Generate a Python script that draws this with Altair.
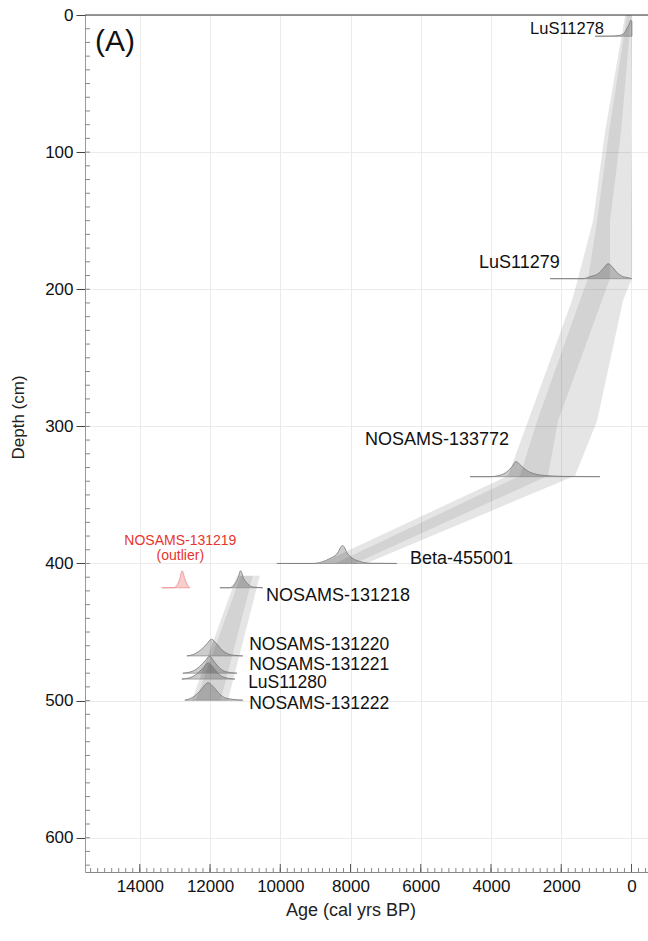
import altair as alt
import pandas as pd

FONT = "Liberation Sans"

# ---------------- age-depth model envelope (age in cal yrs BP, depth in cm)
env_seg = ["upper"] * 8 + ["lower"] * 2
env_depth = [0, 85, 150, 192, 208, 296, 336, 400, 409, 500]
env_old95 = [180, 752, 1094, 1521, 1692, 2946, 3516, 8852, 11237, 12519]
env_young95 = [-20, 11, -17, -17, 239, 980, 1607, 7561, 10581, 11494]
env_old68 = [125, 638, 980, 1236, 1464, 2689, 3174, 8444, 11123, 12405]
env_young68 = [10, 296, 610, 610, 838, 2091, 2376, 7874, 10781, 11700]

# ---------------- calibrated date probability curves
pdf_names = ["LuS11278", "LuS11279", "NOSAMS-133772", "Beta-455001", "NOSAMS-131219",
             "NOSAMS-131218", "NOSAMS-131220", "NOSAMS-131221", "LuS11280", "NOSAMS-131222"]
pdf_depth = [15.5, 192.3, 336.7, 400.0, 417.7, 417.7, 467.4, 480.0, 484.3, 499.7]
pdf_outlier = [False, False, False, False, True, False, False, False, False, False]
pdf_age = [
    [1037, 500, 325, 200, 134, 60, 20, -10, -12],
    [2319, 1379, 1180, 952, 809, 667, 553, 410, 239, 97, -3],
    [4598, 4028, 3744, 3544, 3402, 3288, 3145, 2974, 2746, 2376, 1892, 900],
    [10097, 9074, 8818, 8590, 8391, 8225, 8077, 7934, 7735, 7450, 6681],
    [13373, 13032, 12918, 12861, 12795, 12718, 12661, 12604, 12576],
    [11721, 11436, 11294, 11208, 11131, 11037, 10923, 10809, 10496],
    [12661, 12433, 12234, 12092, 11957, 11835, 11664, 11493, 11294, 11066],
    [12775, 12490, 12291, 12148, 12006, 11892, 11721, 11550, 11237],
    [12803, 12519, 12319, 12177, 12054, 11920, 11749, 11579, 11294],
    [12718, 12490, 12291, 12177, 12054, 11920, 11749, 11550, 11066],
]
pdf_height = [
    [0, 0.2, 0.7, 2.5, 5.6, 9.0, 11.7, 11.0, 0],
    [0, 0, 1.5, 3.6, 7.3, 10.9, 8.8, 4.4, 1.5, 0.7, 0],
    [0, 0, 1.1, 3.6, 7.3, 11.0, 8.0, 4.4, 2.0, 0.7, 0.2, 0],
    [0, 0, 1.1, 3.6, 6.9, 13.1, 6.9, 3.6, 1.5, 0.2, 0],
    [0, 0, 2.9, 6.6, 12.4, 6.6, 2.9, 0.7, 0],
    [0, 0, 2.9, 6.6, 12.4, 6.6, 2.9, 0.7, 0],
    [0, 1.5, 5.0, 8.8, 12.2, 9.5, 4.4, 1.5, 0.4, 0],
    [0, 1.5, 5.0, 8.8, 12.4, 8.8, 3.6, 1.1, 0],
    [0, 1.5, 5.0, 8.8, 11.9, 8.8, 3.6, 1.1, 0],
    [0, 2.2, 6.6, 10.2, 12.8, 10.2, 5.1, 1.5, 0],
]

# ---------------- labels
lab_text = ["LuS11278", "LuS11279", "NOSAMS-133772", "Beta-455001", "NOSAMS-131218",
            "NOSAMS-131220", "NOSAMS-131221", "LuS11280", "NOSAMS-131222"]
lab_age = [2889, 4344, 7590, 6308, 10410, 10886, 10886, 10915, 10886]
lab_depth = [13.7, 184.8, 313.9, 400.7, 427.0, 463.0, 477.4, 490.8, 506.0]
lab_size = [16.5, 18, 18, 18, 18, 17.5, 17.5, 17.5, 17.5]

out_text = ["NOSAMS-131219", "(outlier)"]
out_age = [12846, 12846]
out_depth = [386.8, 397.8]

# ---------------- axis ticks
x_major = list(range(0, 14001, 2000))
x_minor = list(range(-400, 15401, 200))
y_major = list(range(0, 601, 100))
y_minor = list(range(10, 621, 10))

# ---------------- tables
df_env = pd.DataFrame({"seg": env_seg, "depth": env_depth, "old95": env_old95,
                       "young95": env_young95, "old68": env_old68, "young68": env_young68})
rows = []
base_rows = []
for n, d, o, ages, hs in zip(pdf_names, pdf_depth, pdf_outlier, pdf_age, pdf_height):
    for a, h in zip(ages, hs):
        rows.append({"name": n, "depth": d, "outlier": o, "age": a, "top": d - h})
    base_rows.append({"name": n, "depth": d, "outlier": o, "amin": min(ages), "amax": max(ages)})
df_pdf = pd.DataFrame(rows)
df_base = pd.DataFrame(base_rows)
df_lab = pd.DataFrame({"t": lab_text, "age": lab_age, "depth": lab_depth, "fs": lab_size})
df_out = pd.DataFrame({"t": out_text, "age": out_age, "depth": out_depth})

W, H = 563, 857
xscale = alt.Scale(domain=[-470, 15560], reverse=True, nice=False, zero=False)
yscale = alt.Scale(domain=[0, 625], reverse=True, nice=False, zero=False)

xaxis = alt.Axis(values=x_major, format="d", title="Age (cal yrs BP)", ticks=False,
                 labelFont=FONT, labelFontSize=17, labelColor="#111", labelPadding=6,
                 domainColor="#888", grid=True, gridColor="#ebebeb",
                 titleFont=FONT, titleFontSize=18, titleFontWeight="normal", titleColor="#222",
                 titlePadding=7, titleX=265.5, titleAlign="center")
yaxis = alt.Axis(values=y_major, format="d", title="Depth (cm)", tickSize=9, tickColor="#444",
                 labelFont=FONT, labelFontSize=17, labelColor="#111", labelPadding=3,
                 domainColor="#999", grid=True, gridColor="#ebebeb",
                 titleFont=FONT, titleFontSize=17, titleFontWeight="normal", titleColor="#222",
                 titleX=-67, titleY=402, titleAngle=270, titleAlign="center", titleBaseline="middle")


def X(f):
    return alt.X(f, scale=xscale, axis=xaxis)


def Y(f):
    return alt.Y(f, scale=yscale, axis=yaxis)


env95 = alt.Chart(df_env).mark_area(orient="horizontal", color="black", opacity=0.10).encode(
    y=Y("depth:Q"), x=X("old95:Q"), x2="young95:Q", detail="seg:N")
env68 = alt.Chart(df_env).mark_area(orient="horizontal", color="black", opacity=0.08).encode(
    y=Y("depth:Q"), x=X("old68:Q"), x2="young68:Q", detail="seg:N")

normal = df_pdf[~df_pdf["outlier"]]
outl = df_pdf[df_pdf["outlier"]]
pdf_fill = alt.Chart(normal).mark_area(orient="vertical", interpolate="monotone",
                                       color="black", opacity=0.2).encode(
    x=X("age:Q"), y=Y("top:Q"), y2="depth:Q", detail="name:N")
pdf_line = alt.Chart(normal).mark_line(interpolate="monotone", color="#777", strokeWidth=0.8).encode(
    x=X("age:Q"), y=Y("top:Q"), detail="name:N")
out_fill = alt.Chart(outl).mark_area(orient="vertical", interpolate="monotone",
                                     color="#e53935", opacity=0.25).encode(
    x=X("age:Q"), y=Y("top:Q"), y2="depth:Q", detail="name:N")
out_line = alt.Chart(outl).mark_line(interpolate="monotone", color="#ee8a8a", strokeWidth=0.8).encode(
    x=X("age:Q"), y=Y("top:Q"), detail="name:N")
base_n = alt.Chart(df_base[~df_base["outlier"]]).mark_rule(color="#888", strokeWidth=0.7).encode(
    x=X("amin:Q"), x2="amax:Q", y=Y("depth:Q"))
base_o = alt.Chart(df_base[df_base["outlier"]]).mark_rule(color="#ee8a8a", strokeWidth=0.7).encode(
    x=X("amin:Q"), x2="amax:Q", y=Y("depth:Q"))

xmaj = alt.Chart(pd.DataFrame({"v": x_major})).mark_rule(color="#555").encode(
    x=X("v:Q"), y=alt.value(H), y2=alt.value(H - 8))
xmin = alt.Chart(pd.DataFrame({"v": x_minor})).mark_rule(color="#888").encode(
    x=X("v:Q"), y=alt.value(H), y2=alt.value(H - 4))
ymin = alt.Chart(pd.DataFrame({"v": y_minor})).mark_rule(color="#888").encode(
    y=Y("v:Q"), x=alt.value(0), x2=alt.value(5))

labels = alt.Chart(df_lab).mark_text(align="left", baseline="alphabetic", font=FONT, color="#111").encode(
    x=X("age:Q"), y=Y("depth:Q"), text="t:N", size=alt.Size("fs:Q", scale=None, legend=None))
out_labels = alt.Chart(df_out).mark_text(align="center", baseline="alphabetic", font=FONT,
                                         fontSize=14, color="#e8342c").encode(
    x=X("age:Q"), y=Y("depth:Q"), text="t:N")

top_border = alt.Chart(pd.DataFrame({"a": [0]})).mark_rule(color="#333", strokeWidth=1).encode(
    x=alt.value(0), x2=alt.value(W), y=alt.value(0))
panel = alt.Chart(pd.DataFrame({"t": ["(A)"]})).mark_text(
    align="left", baseline="alphabetic", font=FONT, fontSize=30, color="#111").encode(
    text="t:N", x=alt.value(10), y=alt.value(36))

chart = alt.layer(
    env95, env68, pdf_fill, out_fill, base_n, base_o, pdf_line, out_line,
    xmin, xmaj, ymin, labels, out_labels, top_border, panel
).properties(
    width=W, height=H,
    padding={"left": 85, "top": 15, "right": 0, "bottom": 69},
    autosize=alt.AutoSizeParams(type="none"),
    background="white",
).configure_view(stroke=None)

chart.save("out.html", embed_options={"renderer": "svg", "actions": False})
